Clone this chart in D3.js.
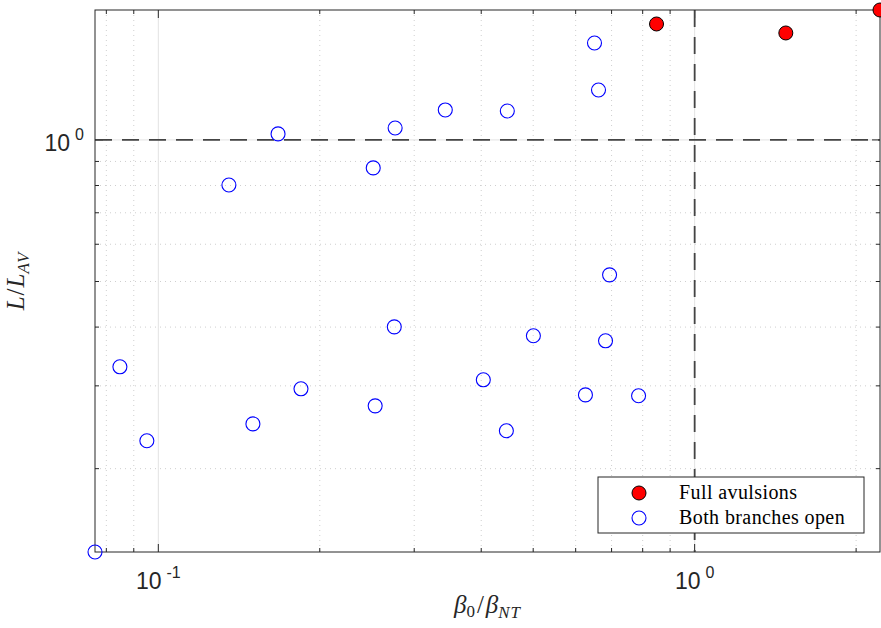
<!DOCTYPE html>
<html>
<head>
<meta charset="utf-8">
<script src="https://cdn.jsdelivr.net/npm/d3@7"></script>
<style>
  body { margin: 0; background: #fff; }
</style>
</head>
<body>
<div id="chart"></div>
<script>
// beta0/betaNT and L/L_AV
const fullX = [0.849, 1.479, 2.216];
const fullY = [1.764, 1.688, 1.889];

const openX = [0.0762, 0.0848, 0.0952, 0.1354, 0.1501, 0.1672, 0.1845, 0.2516, 0.2537, 0.2754, 0.2764,
    0.3428, 0.4036, 0.4456, 0.4474, 0.5004, 0.6257, 0.6505, 0.6618, 0.6821, 0.6940, 0.786];
const openY = [0.133, 0.3293, 0.2293, 0.802, 0.249, 1.030, 0.2957, 0.872, 0.272, 0.4005, 1.060,
    1.158, 0.309, 0.2408, 1.152, 0.3834, 0.287, 1.607, 1.277, 0.374, 0.5165, 0.2858];

const legendLabels = ['Full avulsions', 'Both branches open'];
const xMajor = [0.1, 1];
const xMinor = [0.08, 0.09, 0.2, 0.3, 0.4, 0.5, 0.6, 0.7, 0.8, 0.9, 2];
const yMajor = [1];
const yMinor = [0.2, 0.3, 0.4, 0.5, 0.6, 0.7, 0.8, 0.9];
const refX = 1;  // threshold lines
const refY = 1;

const margin = {top: 10, right: 1, bottom: 76, left: 95};
const width = 881 - margin.left - margin.right;
const height = 628 - margin.top - margin.bottom;
const axisColor = '#262626';

const svg = d3.select('#chart')
    .append('svg')
    .attr('width', 881)
    .attr('height', 628)
    .append('g')
    .attr('transform', `translate(${margin.left},${margin.top})`);

const allX = fullX.concat(openX);
const allY = fullY.concat(openY);

// axis tight round the data, as in the original
const x = d3.scaleLog()
    .domain(d3.extent(allX))
    .range([0, width]);

const y = d3.scaleLog()
    .domain(d3.extent(allY))
    .range([height, 0]);

// grid
const grid = svg.append('g');
grid.selectAll('.xmin').data(xMinor).enter().append('line')
    .attr('x1', d => x(d)).attr('x2', d => x(d))
    .attr('y1', 0).attr('y2', height)
    .attr('stroke', '#cfcfcf').attr('stroke-width', 1)
    .attr('stroke-dasharray', '1,4');
grid.selectAll('.ymin').data(yMinor).enter().append('line')
    .attr('x1', 0).attr('x2', width)
    .attr('y1', d => y(d)).attr('y2', d => y(d))
    .attr('stroke', '#cfcfcf').attr('stroke-width', 1)
    .attr('stroke-dasharray', '1,4');
grid.selectAll('.xmaj').data(xMajor).enter().append('line')
    .attr('x1', d => x(d)).attr('x2', d => x(d))
    .attr('y1', 0).attr('y2', height)
    .attr('stroke', '#e2e2e2').attr('stroke-width', 1);
grid.selectAll('.ymaj').data(yMajor).enter().append('line')
    .attr('x1', 0).attr('x2', width)
    .attr('y1', d => y(d)).attr('y2', d => y(d))
    .attr('stroke', '#e2e2e2').attr('stroke-width', 1);

// ticks (inward, on all four sides)
function ticks(vals, len, horizontal) {
    vals.forEach(v => {
        if (horizontal) {
            svg.append('line').attr('x1', x(v)).attr('x2', x(v))
                .attr('y1', height).attr('y2', height - len).attr('stroke', axisColor);
            svg.append('line').attr('x1', x(v)).attr('x2', x(v))
                .attr('y1', 0).attr('y2', len).attr('stroke', axisColor);
        } else {
            svg.append('line').attr('y1', y(v)).attr('y2', y(v))
                .attr('x1', 0).attr('x2', len).attr('stroke', axisColor);
            svg.append('line').attr('y1', y(v)).attr('y2', y(v))
                .attr('x1', width).attr('x2', width - len).attr('stroke', axisColor);
        }
    });
}
ticks(xMajor, 8, true);
ticks(xMinor, 4, true);
ticks(yMajor, 8, false);
ticks(yMinor, 4, false);

// reference lines at 1
svg.append('line')
    .attr('x1', 0).attr('x2', width)
    .attr('y1', y(refY)).attr('y2', y(refY))
    .attr('stroke', '#444').attr('stroke-width', 1.8)
    .attr('stroke-dasharray', '17,10');
svg.append('line')
    .attr('x1', x(refX)).attr('x2', x(refX))
    .attr('y1', 0).attr('y2', height)
    .attr('stroke', '#444').attr('stroke-width', 1.8)
    .attr('stroke-dasharray', '17,10');

// box
svg.append('rect')
    .attr('x', 0).attr('y', 0)
    .attr('width', width).attr('height', height)
    .attr('fill', 'none')
    .attr('stroke', axisColor).attr('stroke-width', 1);

// tick labels 10^n
function expLabel(sel, v) {
    const e = Math.round(Math.log10(v));
    sel.append('tspan').text('10');
    sel.append('tspan').attr('dx', 5).attr('dy', -11).style('font-size', '16px').text(e < 0 ? '-' + (-e) : e);
}
xMajor.forEach(v => {
    const t = svg.append('text')
        .attr('x', x(v)).attr('y', height + 37)
        .attr('text-anchor', 'middle')
        .style('font-family', '"Liberation Sans", Arial, sans-serif')
        .style('font-size', '23px').attr('fill', axisColor);
    expLabel(t, v);
});
yMajor.forEach(v => {
    const t = svg.append('text')
        .attr('x', -11).attr('y', y(v) + 11)
        .attr('text-anchor', 'end')
        .style('font-family', '"Liberation Sans", Arial, sans-serif')
        .style('font-size', '23px').attr('fill', axisColor);
    expLabel(t, v);
});

// axis titles
const xl = svg.append('text')
    .attr('x', width / 2).attr('y', height + 61)
    .attr('text-anchor', 'middle')
    .attr('font-family', 'Liberation Serif, serif')
    .attr('font-size', 25).attr('fill', axisColor);
xl.append('tspan').attr('font-style', 'italic').text('β');
xl.append('tspan').attr('dy', 4).attr('font-size', 17).text('0');
xl.append('tspan').attr('dx', 2).attr('dy', -4).text('/');
xl.append('tspan').attr('dx', 2).attr('font-style', 'italic').text('β');
xl.append('tspan').attr('dy', 5).attr('font-size', 17).attr('font-style', 'italic')
    .attr('letter-spacing', 1).text('NT');

const yl = svg.append('text')
    .attr('transform', `translate(${24 - margin.left},${height / 2}) rotate(-90)`)
    .attr('text-anchor', 'middle')
    .attr('font-family', 'Liberation Serif, serif')
    .attr('font-size', 25).attr('fill', axisColor);
yl.append('tspan').attr('font-style', 'italic').text('L');
yl.append('tspan').attr('dx', 1).text('/');
yl.append('tspan').attr('dx', 1).attr('font-style', 'italic').text('L');
yl.append('tspan').attr('dy', 5).attr('font-size', 17).attr('font-style', 'italic')
    .attr('letter-spacing', 1).text('AV');

// points
svg.selectAll('.open')
    .data(openX.map((d, i) => [d, openY[i]]))
    .enter().append('circle')
    .attr('cx', d => x(d[0])).attr('cy', d => y(d[1]))
    .attr('r', 7)
    .attr('fill', 'none').attr('stroke', '#0000ff').attr('stroke-width', 1.1);

svg.selectAll('.full')
    .data(fullX.map((d, i) => [d, fullY[i]]))
    .enter().append('circle')
    .attr('cx', d => x(d[0])).attr('cy', d => y(d[1]))
    .attr('r', 7)
    .attr('fill', '#ff0000').attr('stroke', '#000').attr('stroke-width', 1);

// legend
const lg = svg.append('g').attr('transform', `translate(${598 - margin.left},${477 - margin.top})`);
lg.append('rect')
    .attr('width', 266).attr('height', 56)
    .attr('fill', '#fff').attr('stroke', axisColor).attr('stroke-width', 1);
lg.append('circle').attr('cx', 41).attr('cy', 16).attr('r', 7)
    .attr('fill', '#ff0000').attr('stroke', '#000');
lg.append('circle').attr('cx', 41).attr('cy', 41).attr('r', 7)
    .attr('fill', 'none').attr('stroke', '#0000ff').attr('stroke-width', 1.1);
lg.selectAll('.lt')
    .data(legendLabels)
    .enter().append('text')
    .attr('x', 81).attr('y', (d, i) => 22 + i * 25)
    .attr('font-family', 'Liberation Serif, serif')
    .attr('font-size', 20).attr('letter-spacing', 0.4).attr('fill', '#000')
    .text(d => d);
</script>
</body>
</html>
